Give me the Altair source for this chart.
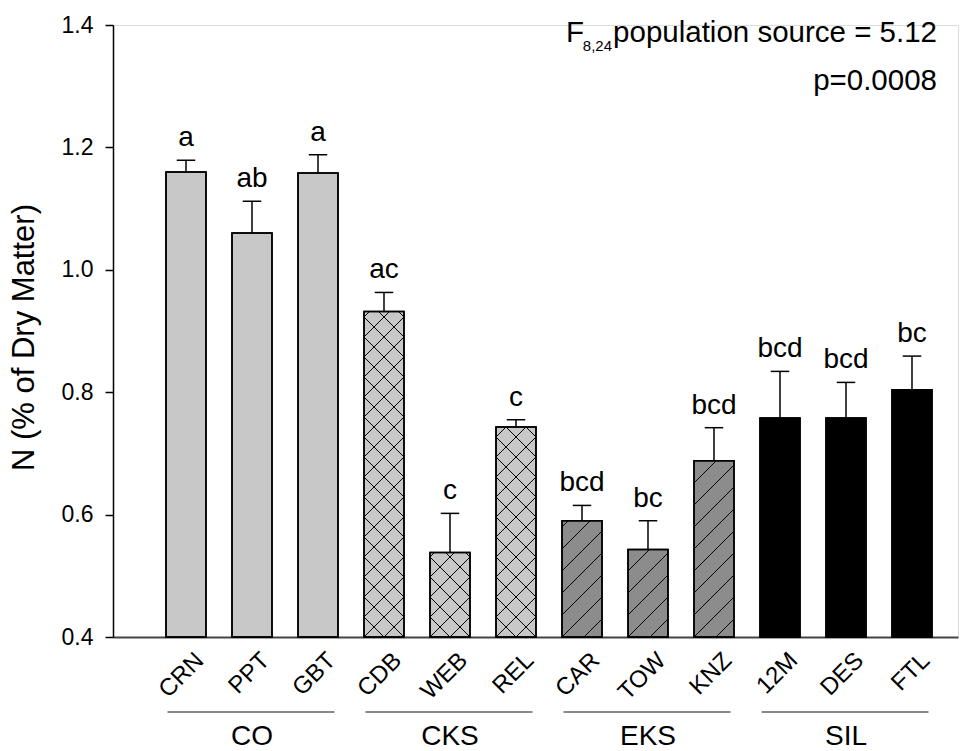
import altair as alt
import pandas as pd
import numpy as np

# ---- data ----
names = ["CRN", "PPT", "GBT", "CDB", "WEB", "REL", "CAR", "TOW", "KNZ", "12M", "DES", "FTL"]
groups = ["CO", "CO", "CO", "CKS", "CKS", "CKS", "EKS", "EKS", "EKS", "SIL", "SIL", "SIL"]
means = [1.160, 1.060, 1.158, 0.932, 0.538, 0.743, 0.590, 0.543, 0.688, 0.758, 0.758, 0.804]
errs = [0.019, 0.052, 0.030, 0.031, 0.064, 0.012, 0.025, 0.047, 0.054, 0.076, 0.058, 0.055]
letters = ["a", "ab", "a", "ac", "c", "c", "bcd", "bc", "bcd", "bcd", "bcd", "bc"]
group_names = ["CO", "CKS", "EKS", "SIL"]
group_fill = ["#c8c8c8", "#c8c8c8", "#8c8c8c", "#000000"]

# ---- layout constants ----
W, H = 845, 612
XMIN, XMAX = -1.106, 11.697
YMIN, YMAX = 0.4, 1.4
BAR_HALF = 0.303
CAP_HALF = 0.14
FONT = "Liberation Sans"

idx = list(range(len(names)))
df = pd.DataFrame({"idx": idx, "name": names, "group": groups, "mean": means,
                   "err": errs, "letter": letters})
df["x1"] = df["idx"] - BAR_HALF
df["x2"] = df["idx"] + BAR_HALF
df["top"] = df["mean"] + df["err"]
df["c1"] = df["idx"] - CAP_HALF
df["c2"] = df["idx"] + CAP_HALF
df["base"] = YMIN


def px_x(u):
    return (u - XMIN) / (XMAX - XMIN) * W


def px_y(v):
    return (YMAX - v) / (YMAX - YMIN) * H


def dxv(p):
    return XMIN + p / W * (XMAX - XMIN)


def dyv(p):
    return YMAX - p / H * (YMAX - YMIN)


# hatch segments derived from the bar rectangles
hatch = {"CKS": [(1, 20.0), (-1, 20.0)], "EKS": [(1, 22.0)]}
segs = []
for i, g, m in zip(idx, groups, means):
    L, R = px_x(i - BAR_HALF), px_x(i + BAR_HALF)
    T, B = px_y(m), float(H)
    for s, d in hatch.get(g, []):
        if s == 1:  # x + y = c
            base = L + B
            k0 = int(np.floor(((L + T) - base) / d)) - 1
            k1 = int(np.ceil(((R + B) - base) / d)) + 1
            for k in range(k0, k1 + 1):
                c = base + k * d
                lo, hi = max(L, c - B), min(R, c - T)
                if hi - lo > 0.5:
                    segs.append((dxv(lo), dyv(c - lo), dxv(hi), dyv(c - hi)))
        else:  # x - y = c
            base = L - B
            k0 = int(np.floor(((L - B) - base) / d)) - 1
            k1 = int(np.ceil(((R - T) - base) / d)) + 1
            for k in range(k0, k1 + 1):
                c = base + k * d
                lo, hi = max(L, c + T), min(R, c + B)
                if hi - lo > 0.5:
                    segs.append((dxv(lo), dyv(lo - c), dxv(hi), dyv(hi - c)))
hdf = pd.DataFrame(segs, columns=["hx", "hy", "hx2", "hy2"])

gdf = pd.DataFrame({
    "g": group_names,
    "gs": [min(i for i, gg in zip(idx, groups) if gg == g) - 0.28 for g in group_names],
    "ge": [max(i for i, gg in zip(idx, groups) if gg == g) + 0.25 for g in group_names],
    "gc": [np.mean([i for i, gg in zip(idx, groups) if gg == g]) for g in group_names],
})

label_expr = "[" + ",".join("'%s'" % n for n in names) + "][datum.value]"

xs = alt.Scale(domain=[XMIN, XMAX], nice=False, zero=False)
ys = alt.Scale(domain=[YMIN, YMAX], nice=False, zero=False)
xaxis = alt.Axis(values=idx, labelExpr=label_expr, labelAngle=315, labelAlign="right",
                 labelBaseline="top", labelFontSize=24, labelOffset=5, labelPadding=11,
                 ticks=False, tickSize=0, domainColor="#444444", domainWidth=2,
                 grid=False, title=None, labelColor="black", labelFlush=False,
                 labelOverlap=False, labelFont=FONT)
yaxis = alt.Axis(values=[0.4, 0.6, 0.8, 1.0, 1.2, 1.4], format=".1f",
                 title="N (% of Dry Matter)", titleFontSize=31, titleFontWeight="normal",
                 titleX=-89, titleY=312, titleAngle=270, titleAlign="center",
                 titleBaseline="middle", titleColor="black", titleFont=FONT,
                 labelFontSize=23, labelColor="black", labelPadding=12, labelFont=FONT,
                 tickSize=8, tickWidth=1.5, tickColor="black",
                 domainWidth=1.5, domainColor="black", grid=False)


def X(f):
    return alt.X(f, type="quantitative", scale=xs, axis=xaxis)


def Y(f):
    return alt.Y(f, type="quantitative", scale=ys, axis=yaxis)


base = alt.Chart(df)

bars = base.mark_rect(stroke="black", strokeWidth=1.5).encode(
    x=X("x1"), x2="x2", y=Y("base"), y2="mean",
    fill=alt.Fill("group:N", scale=alt.Scale(domain=group_names, range=group_fill), legend=None),
)

hatch_lines = alt.Chart(hdf).mark_rule(color="black", strokeWidth=1).encode(
    x=X("hx"), x2="hx2", y=Y("hy"), y2="hy2"
)

outline = base.mark_rect(stroke="black", strokeWidth=1.5, fillOpacity=0).encode(
    x=X("x1"), x2="x2", y=Y("base"), y2="mean"
)

err_line = base.mark_rule(color="black", strokeWidth=1.5).encode(
    x=X("idx"), y=Y("mean"), y2="top"
)
err_cap = base.mark_rule(color="black", strokeWidth=1.5).encode(
    x=X("c1"), x2="c2", y=Y("top")
)
letter_text = base.mark_text(fontSize=28, baseline="bottom", dy=-8, font=FONT, color="black").encode(
    x=X("idx"), y=Y("top"), text="letter"
)

group_lines = alt.Chart(gdf).mark_rule(color="#888888", strokeWidth=2).encode(
    x=X("gs"), x2="ge", y=alt.value(687)
)
group_text = alt.Chart(gdf).mark_text(fontSize=28, baseline="middle", font=FONT, color="black").encode(
    x=X("gc"), y=alt.value(712), text="g"
)

ann = pd.DataFrame({"t": ["population source = 5.12", "p=0.0008", "8,24", "F"],
                    "px": [824, 824, 499, 471], "py": [17, 65, 26, 17],
                    "fs": [29.5, 29.5, 15, 29.5]})
ann_text = alt.Chart(ann).mark_text(align="right", baseline="alphabetic", font=FONT, color="black").encode(
    x=alt.X("px:Q", scale=None), y=alt.Y("py:Q", scale=None), text="t",
    size=alt.Size("fs:Q", scale=None, legend=None),
)

chart = alt.layer(
    bars, hatch_lines, outline, err_line, err_cap, letter_text, group_lines, group_text, ann_text
).properties(
    width=W, height=H,
    padding={"left": 113, "top": 25, "right": 20, "bottom": 114},
    autosize=alt.AutoSizeParams(type="none"),
).configure_view(stroke=None).configure(font=FONT, background="white")

chart.save("out.html", embed_options={"renderer": "svg", "actions": False})
